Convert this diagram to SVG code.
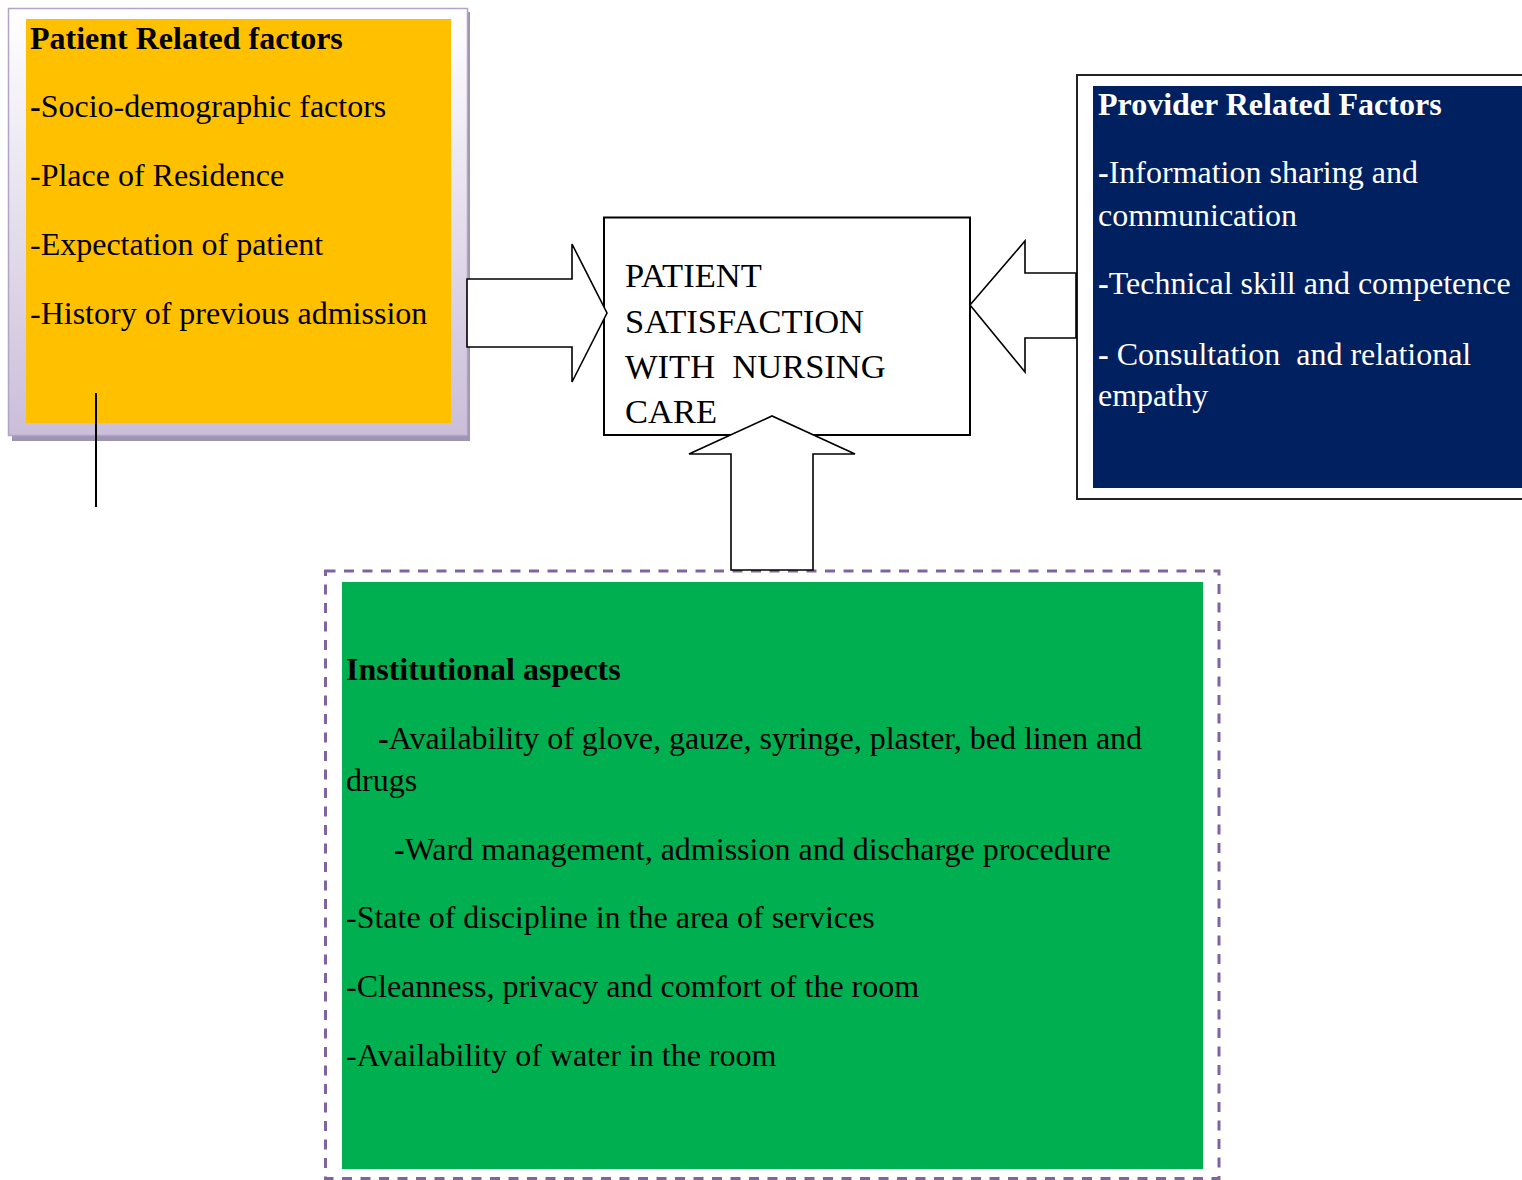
<svg xmlns="http://www.w3.org/2000/svg" width="1522" height="1180" viewBox="0 0 1522 1180">
<defs>
<linearGradient id="lav" x1="0" y1="0" x2="0" y2="1">
<stop offset="0" stop-color="#ffffff"/>
<stop offset="1" stop-color="#cabed9"/>
</linearGradient>
<style>
text{font-family:"Liberation Serif","Times New Roman",serif;font-size:32px;fill:#000}
.b{font-weight:bold}
.w{fill:#fff}
.arrow{fill:#fff;stroke:#000;stroke-width:1.6;stroke-linejoin:miter}
</style>
</defs>
<rect width="1522" height="1180" fill="#fff"/>

<g id="patient-factors">
<rect x="12" y="12" width="458" height="429" fill="#9f95b1"/>
<rect x="8.5" y="8.5" width="459" height="427" fill="url(#lav)" stroke="#b3a3c8" stroke-width="1.5"/>
<rect x="26" y="19" width="425" height="404" fill="#ffc000"/>
<text x="30" y="49" class="b">Patient Related factors</text>
<text x="30" y="117"><tspan class="b">-</tspan>Socio-demographic factors</text>
<text x="30" y="186">-Place of Residence</text>
<text x="30" y="255">-Expectation of patient</text>
<text x="30" y="324">-History of previous admission</text>
<line x1="96" y1="393" x2="96" y2="507" stroke="#000" stroke-width="2"/>
</g>

<g id="provider-factors">
<rect x="1077" y="75" width="470" height="424" fill="#fff" stroke="#222" stroke-width="2"/>
<rect x="1093" y="86" width="440" height="402" fill="#002060"/>
<text x="1098" y="115" class="b w">Provider Related Factors</text>
<text x="1098" y="183" class="w"><tspan class="b">-</tspan>Information sharing and</text>
<text x="1098" y="226" class="w">communication</text>
<text x="1098" y="294" class="w"><tspan class="b">-</tspan>Technical skill and competence</text>
<text x="1098" y="365" class="w" xml:space="preserve"><tspan class="b">-</tspan> Consultation  and relational</text>
<text x="1098" y="406" class="w">empathy</text>
</g>

<g id="institutional-aspects">
<rect x="325.5" y="571" width="893.5" height="607.5" fill="#fff" stroke="#8064a2" stroke-width="3" stroke-dasharray="10,8.5"/>
<rect x="342" y="582" width="861" height="587" fill="#00b050"/>
<text x="346" y="680" class="b">Institutional aspects</text>
<text x="378" y="749"><tspan class="b">-</tspan>Availability of glove, gauze, syringe, plaster, bed linen and</text>
<text x="346" y="791">drugs</text>
<text x="394" y="860"><tspan class="b">-</tspan>Ward management, admission and discharge procedure</text>
<text x="346" y="928">-State of discipline in the area of services</text>
<text x="346" y="997">-Cleanness, privacy and comfort of the room</text>
<text x="346" y="1066">-Availability of water in the room</text>
</g>

<g id="satisfaction">
<rect x="604" y="217.5" width="366" height="217.5" fill="#fff" stroke="#000" stroke-width="2"/>
<text x="625" y="287" style="font-size:34.5px">PATIENT</text>
<text x="625" y="333" style="font-size:34.5px">SATISFACTION</text>
<text x="625" y="378" style="font-size:34.5px" xml:space="preserve">WITH  NURSING</text>
<text x="625" y="423" style="font-size:34.5px">CARE</text>
</g>

<g id="connectors">
<polygon class="arrow" points="467,279 572,279 572,244 607,313 572,382 572,347 467,347"/>
<polygon class="arrow" points="1076,273 1025,273 1025,241 970,305 1025,372 1025,338 1076,338"/>
<polygon class="arrow" points="731,570 731,454 689,454 772,416 855,454 813,454 813,570"/>
</g>
</svg>
